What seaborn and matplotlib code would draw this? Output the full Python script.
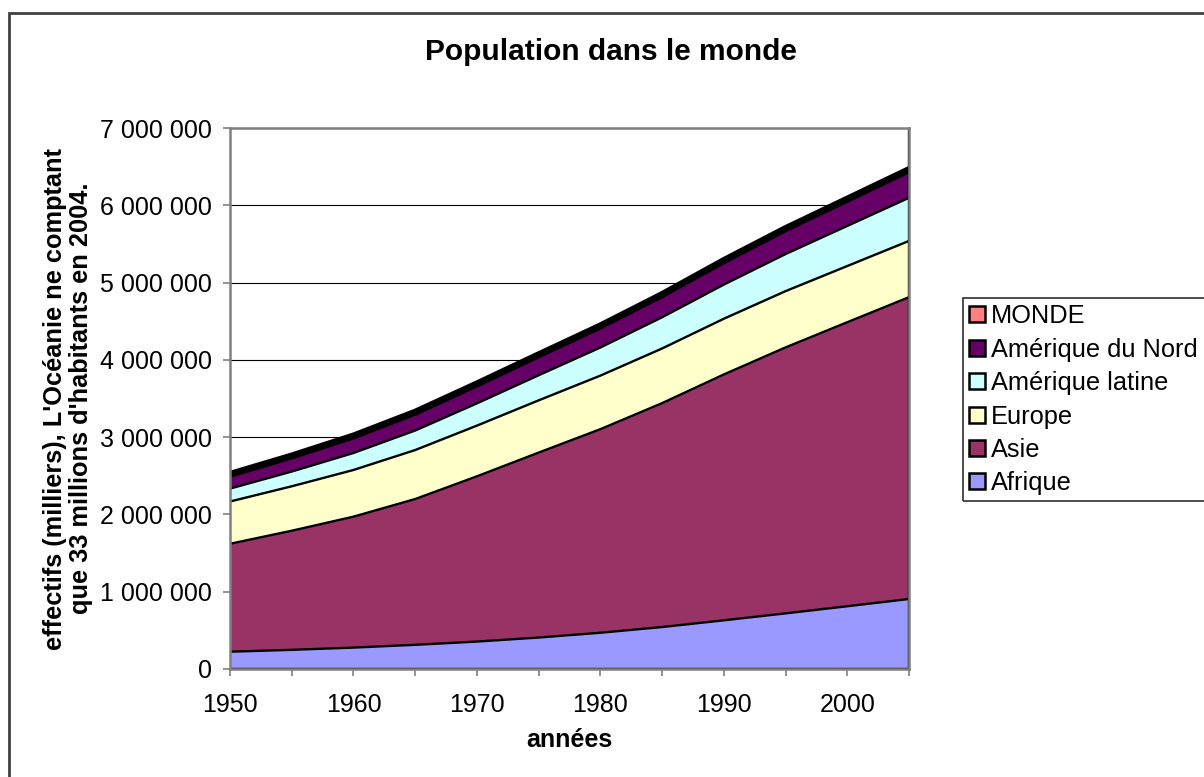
import numpy as np
import pandas as pd
import seaborn as sns
import matplotlib.pyplot as plt
from matplotlib.patches import Patch, Rectangle

# données (milliers d'habitants)
annees = [1950, 1955, 1960, 1965, 1970, 1975, 1980, 1985, 1990, 1995, 2000, 2005]
afrique = [224000, 248000, 277000, 313000, 355000, 407000, 469000, 543000, 630000, 720000, 812000, 906000]
asie = [1396000, 1541000, 1694000, 1886000, 2138000, 2393000, 2634000, 2897000, 3181000, 3441000, 3675000, 3905000]
europe = [547000, 575000, 604000, 634000, 656000, 676000, 693000, 707000, 721000, 728000, 727000, 728000]
amerique_latine = [167000, 191000, 220000, 253000, 288000, 325000, 364000, 404000, 442000, 480000, 519000, 558000]
amerique_nord = [172000, 187000, 204000, 219000, 232000, 243000, 256000, 269000, 284000, 300000, 316000, 332000]
monde = [12800, 14300, 15900, 17600, 19700, 21600, 22900, 24800, 26900, 29100, 31000, 33000]

series = ['Afrique', 'Asie', 'Europe', 'Amérique latine', 'Amérique du Nord', 'MONDE']
valeurs = [afrique, asie, europe, amerique_latine, amerique_nord, monde]
colors = ['#9999FF', '#993366', '#FFFFCC', '#CCFFFF', '#660066', '#FF8080']

sns.set_theme(style='white')
plt.rcParams['font.family'] = ['Liberation Sans', 'DejaVu Sans']
plt.rcParams['text.color'] = 'black'
plt.rcParams['axes.labelcolor'] = 'black'

df = pd.DataFrame({'année': annees})
for nom, v in zip(series, valeurs):
    df[nom] = v
cumul = df[series].cumsum(axis=1)
cumul['année'] = annees
long = cumul.melt(id_vars='année', var_name='série', value_name='cumul')

fig = plt.figure(figsize=(12.04, 7.77), dpi=100)
ax = fig.add_axes([230/1204, 108/777, 679/1204, 541/777])

# grille horizontale
for y in range(1000000, 7000001, 1000000):
    ax.axhline(y, color='black', lw=0.8, zorder=1)

# aires empilées
bas = np.zeros(len(annees))
for nom, c in zip(series, colors):
    haut = cumul[nom].values
    ax.fill_between(annees, bas, haut, color=c, lw=0, zorder=2)
    bas = haut

# contours des couches
sns.lineplot(data=long[long['série'] != 'MONDE'], x='année', y='cumul', units='série',
             estimator=None, color='black', lw=1.7, ax=ax, zorder=3)
sns.lineplot(data=long[long['série'] == 'MONDE'], x='année', y='cumul',
             estimator=None, color='black', lw=5, ax=ax, zorder=4)
ax.axvline(2005, color='black', lw=1.7, zorder=4)
ax.axhline(0, color='black', lw=1.7, zorder=4)

ax.set_xlim(1950, 2005)
ax.set_ylim(0, 7000000)
ax.set_xticks(range(1950, 2006, 5))
ax.set_xticklabels([str(a) if a % 10 == 0 else '' for a in range(1950, 2006, 5)])
yt = range(0, 7000001, 1000000)
ax.set_yticks(yt)
ax.set_yticklabels([f'{v:,}'.replace(',', ' ') for v in yt])
ax.tick_params(axis='both', labelsize=18, colors='#808080', labelcolor='black',
               length=5, width=1.2, direction='out', left=True, bottom=True)
ax.tick_params(axis='y', pad=8)
ax.tick_params(axis='x', pad=12)

for s in ax.spines.values():
    s.set_color('#808080')
    s.set_linewidth(1.8)
    s.set_zorder(5)

ax.set_xlabel('années', fontsize=18, fontweight='bold')
ax.xaxis.set_label_coords(0.5, -0.109)
ax.set_ylabel("effectifs (milliers), L'Océanie ne comptant\nque 33 millions d'habitants en 2004.",
              fontsize=18.3, fontweight='bold', linespacing=1.1)
ax.yaxis.set_label_coords(-0.202, 0.5)

fig.text(611/1204, 1 - 60/777, 'Population dans le monde', fontsize=21.5, fontweight='bold',
         ha='center', va='baseline')

# légende (cadre dessiné à part, il déborde à droite)
handles = [Patch(facecolor=c, edgecolor='black', lw=1.8, label=n)
           for n, c in zip(series[::-1], colors[::-1])]
leg = fig.legend(handles=handles, loc='upper left', bbox_to_anchor=(963/1204, 1 - 298/777),
                 fontsize=18.3, frameon=False,
                 handlelength=0.6, handleheight=0.6, handletextpad=0.25,
                 labelspacing=0.37, borderpad=0.25, borderaxespad=0)
for t in leg.get_texts():
    t.set_color('black')
fig.patches.append(Rectangle((963/1204, 1 - 501/777), 0.3, 203/777, transform=fig.transFigure,
                             fill=False, edgecolor='#303030', lw=1.2))

# cadre du graphique
fig.patches.append(Rectangle((9/1204, -0.1), 1.2, 1.1 - 13/777, transform=fig.transFigure,
                             fill=False, edgecolor='#404040', lw=2))

fig.savefig('out.png', dpi=100)
